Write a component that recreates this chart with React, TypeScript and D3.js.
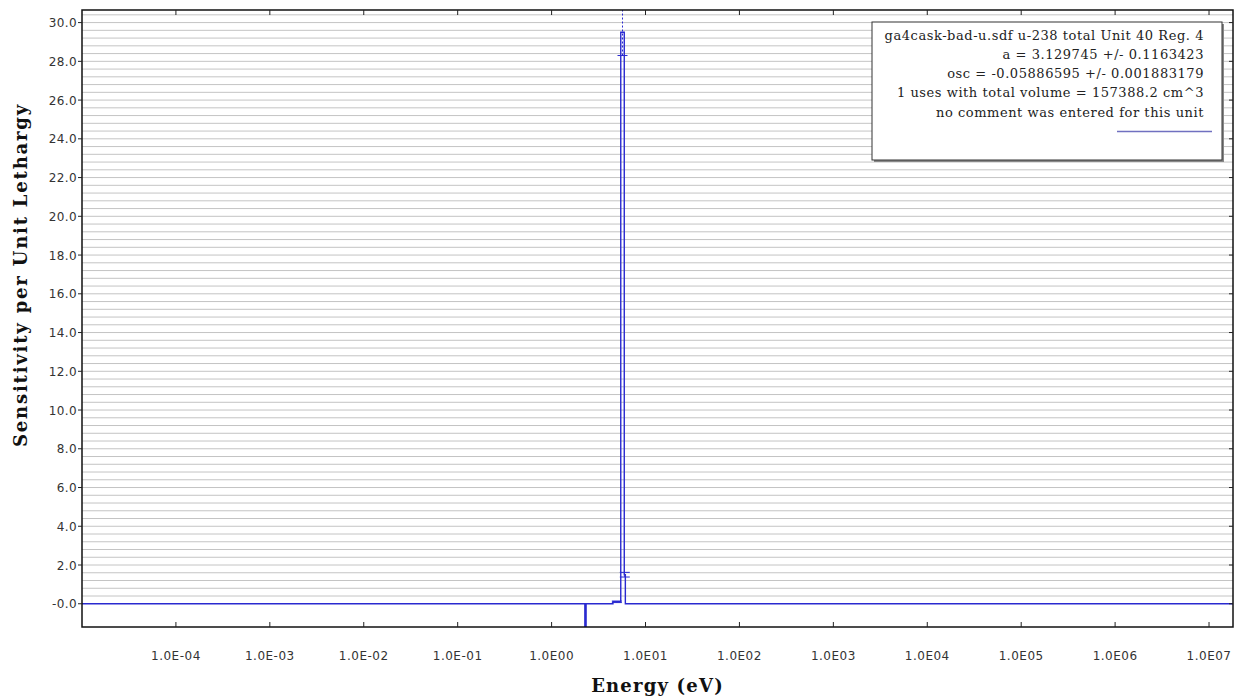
import React from "react";
import * as d3 from "d3";

// group boundaries (eV) and per-group sensitivity
const binEdges = [1e-5, 2.26, 2.33, 4.5, 5.45, 5.94, 6.1, 2e7];
const sensitivity = [0, -2.0, 0, 0.1, 29.5, 1.5, 0];
const sensError = [0, 0.4, 0, 0.04, 1.2, 0.12, 0];

const xTickValues = [1e-4, 1e-3, 1e-2, 1e-1, 1e0, 1e1, 1e2, 1e3, 1e4, 1e5, 1e6, 1e7];
const yTickValues = [0, 2, 4, 6, 8, 10, 12, 14, 16, 18, 20, 22, 24, 26, 28, 30];

const legendLines = [
  "ga4cask-bad-u.sdf u-238 total Unit 40 Reg. 4",
  "a = 3.129745 +/- 0.1163423",
  "osc = -0.05886595 +/- 0.001883179",
  "1 uses with total volume = 157388.2 cm^3",
  "no comment was entered for this unit"
];

const width = 1243;
const height = 698;
const margin = { left: 82, right: 10, top: 10, bottom: 71 };
const lineColor = "#2a2ad0";

const fmtX = (v: number) => {
  const e = Math.round(Math.log10(v));
  const s = String(Math.abs(e)).padStart(2, "0");
  return "1.0E" + (e < 0 ? "-" + s : s);
};
const fmtY = (v: number) => (v === 0 ? "-0.0" : v.toFixed(1));

const App = () => {
  const x = d3
    .scaleLog()
    .domain([1e-5, 1.8e7])
    .range([margin.left, width - margin.right]);
  const y = d3
    .scaleLinear()
    .domain([-1.2, 30.65])
    .range([height - margin.bottom, margin.top]);

  const x0 = margin.left;
  const x1 = width - margin.right;
  const y0 = height - margin.bottom;
  const y1 = margin.top;

  const steps: [number, number][] = [];
  sensitivity.forEach((v, i) => {
    steps.push([binEdges[i], v]);
    steps.push([binEdges[i + 1], v]);
  });
  const line = d3
    .line<[number, number]>()
    .x(d => x(d[0]))
    .y(d => y(d[1]));

  const grid = d3.range(0.4, 30.5, 0.4);

  return (
    <svg
      width={width}
      height={height}
      style={{ position: "absolute", left: 0, top: 0, background: "#fff" }}
    >
      <defs>
        <clipPath id="plot">
          <rect x={x0} y={y1} width={x1 - x0} height={y0 - y1} />
        </clipPath>
      </defs>
      <rect x={x0} y={y1} width={x1 - x0} height={y0 - y1} fill="#fff" />
      {grid.map((g, i) => (
        <line key={i} x1={x0} x2={x1} y1={y(g)} y2={y(g)} stroke="#c4c4c4" strokeWidth={1} />
      ))}

      <g clipPath="url(#plot)">
        <path d={line(steps) || ""} fill="none" stroke={lineColor} strokeWidth={1.4} />
        {sensitivity.map((v, i) => {
          if (!sensError[i]) return null;
          const cx = Math.sqrt(binEdges[i] * binEdges[i + 1]);
          const px = x(cx);
          return (
            <g key={i} stroke={lineColor} strokeWidth={1}>
              <line x1={px} x2={px} y1={y(v - sensError[i])} y2={y(v + sensError[i])} strokeDasharray="2,2" />
              <line x1={px - 5} x2={px + 5} y1={y(v - sensError[i])} y2={y(v - sensError[i])} />
              <line x1={px - 5} x2={px + 5} y1={y(v + sensError[i])} y2={y(v + sensError[i])} />
            </g>
          );
        })}
      </g>

      {/* frame */}
      <rect x={x0} y={y1} width={x1 - x0} height={y0 - y1} fill="none" stroke="#111" strokeWidth={1.5} />

      {/* x ticks */}
      {xTickValues.map(v => (
        <g key={v}>
          <line x1={x(v)} x2={x(v)} y1={y0} y2={y0 - 5} stroke="#222" />
          <line x1={x(v)} x2={x(v)} y1={y1} y2={y1 + 5} stroke="#222" />
          <text
            x={x(v)}
            y={y0 + 33}
            textAnchor="middle"
            fontFamily="DejaVu Sans"
            fontSize={12}
            letterSpacing={0.5}
            fill="#333"
          >
            {fmtX(v)}
          </text>
        </g>
      ))}

      {/* y ticks */}
      {yTickValues.map(v => (
        <g key={v}>
          <line x1={x0} x2={x0 - 4} y1={y(v)} y2={y(v)} stroke="#222" />
          <line x1={x1} x2={x1 - 4} y1={y(v)} y2={y(v)} stroke="#222" />
          <text
            x={x0 - 5}
            y={y(v) + 4.5}
            textAnchor="end"
            fontFamily="DejaVu Sans"
            fontSize={12}
            letterSpacing={0.4}
            fill="#333"
          >
            {fmtY(v)}
          </text>
        </g>
      ))}

      <text
        x={(x0 + x1) / 2}
        y={692}
        textAnchor="middle"
        fontFamily="DejaVu Serif"
        fontWeight="bold"
        fontSize={18}
        letterSpacing={1.2}
        fill="#111"
      >
        Energy (eV)
      </text>
      <text
        transform={`translate(27,275) rotate(-90)`}
        textAnchor="middle"
        fontFamily="DejaVu Serif"
        fontWeight="bold"
        fontSize={18}
        letterSpacing={1.8}
        fill="#111"
      >
        Sensitivity per Unit Lethargy
      </text>

      {/* legend */}
      <rect x={874} y={24} width={350} height={138} fill="#888" />
      <rect x={872} y={22} width={350} height={138} fill="#fff" stroke="#333" strokeWidth={1} />
      {legendLines.map((t, i) => (
        <text
          key={i}
          x={1204}
          y={39.5 + i * 19.3}
          textAnchor="end"
          fontFamily="DejaVu Serif"
          fontSize={13}
          letterSpacing={0.55}
          fill="#222"
        >
          {t}
        </text>
      ))}
      <line x1={1117} x2={1212} y1={131.5} y2={131.5} stroke="#7070c0" strokeWidth={1.5} />
    </svg>
  );
};

export default App;
